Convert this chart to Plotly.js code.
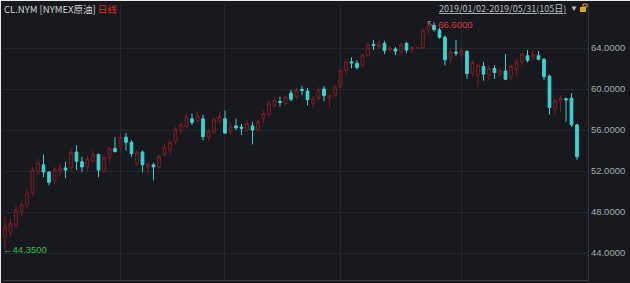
<!DOCTYPE html>
<html>
<head>
<meta charset="utf-8">
<script src="https://cdn.plot.ly/plotly-3.0.1.min.js"></script>
<style>
html,body{margin:0;padding:0;background:#e9e9ea;}
#chart{position:absolute;left:1px;top:1px;width:629px;height:282px;}
</style>
</head>
<body>
<div id="chart"></div>
<script>
// Daily OHLC, CL.NYM, 2019/01/02 - 2019/05/31 (105 bars)
const open  = [45.60,46.05,46.70,48.00,48.70,49.85,51.90,52.60,51.90,51.00,
               52.00,52.30,52.30,53.85,52.90,52.40,53.00,53.60,52.00,53.30,
               54.20,54.30,55.30,54.80,52.70,53.85,52.40,52.60,52.40,53.60,
               54.05,54.90,56.00,56.30,57.10,56.90,57.10,55.30,55.80,56.80,
               57.10,55.80,56.40,56.30,56.00,56.40,56.00,57.10,57.50,58.40,
               58.80,58.60,59.60,59.20,59.95,59.80,58.60,59.10,60.00,59.10,
               59.40,60.20,61.80,62.65,62.50,62.30,63.30,64.35,64.10,64.45,
               63.80,63.90,63.65,64.45,63.85,64.00,64.05,65.75,66.20,65.75,
               65.05,63.00,63.60,63.30,63.65,61.55,61.30,62.20,61.35,62.00,
               61.50,61.75,61.20,61.90,62.65,63.25,63.15,63.25,62.90,61.25,
               58.10,58.80,59.05,59.10,56.50];
const high  = [47.50,47.30,48.60,49.00,50.20,52.40,53.20,53.60,52.00,52.40,
               52.70,52.90,54.30,54.50,53.40,53.50,54.00,53.70,53.50,54.40,
               55.30,55.60,55.70,55.00,54.00,54.00,52.90,52.80,53.60,54.60,
               55.00,56.30,56.70,57.60,57.60,57.80,57.50,56.10,57.20,57.80,
               57.90,56.70,57.10,56.60,57.00,56.80,57.00,57.90,58.90,59.20,
               59.25,59.40,59.90,60.10,60.30,60.10,59.30,60.20,60.30,59.50,
               60.40,62.00,62.90,63.10,62.80,63.50,64.60,64.80,64.80,64.70,
               64.20,64.10,64.50,64.60,64.20,64.10,65.90,66.60,66.50,66.00,
               65.20,64.00,64.80,64.00,63.80,62.80,62.50,62.65,62.30,62.30,
               62.00,63.40,62.40,62.90,63.50,63.80,63.80,63.70,63.00,61.40,
               59.00,59.40,59.15,59.60,56.60];
const low   = [44.35,45.60,46.40,47.60,48.40,49.60,51.60,51.40,50.60,50.60,
               51.50,51.30,52.00,52.10,51.90,52.00,52.80,51.40,51.80,52.90,
               53.80,53.70,54.00,53.40,52.50,51.90,51.80,51.10,52.20,53.40,
               53.60,54.60,55.60,56.10,56.50,56.70,55.00,54.90,55.60,56.60,
               55.60,55.50,56.00,55.50,55.80,54.60,55.80,56.70,57.30,58.20,
               58.30,58.40,58.80,59.00,59.40,58.40,58.10,58.90,58.80,58.20,
               59.20,60.10,61.40,62.00,61.90,62.00,63.10,63.80,63.90,63.40,
               63.60,63.30,63.40,63.50,63.50,63.95,63.90,65.40,65.60,64.90,
               62.30,62.50,63.20,63.10,61.00,61.20,60.20,60.80,60.90,61.00,
               61.20,60.90,60.80,61.30,62.30,62.60,62.80,62.80,60.90,57.50,
               57.50,57.80,56.80,56.30,53.10];
const close = [46.55,46.90,48.20,48.70,49.85,52.10,52.80,51.90,50.90,52.20,
               52.30,52.10,53.80,52.95,52.40,53.20,53.60,52.10,53.30,54.20,
               53.90,55.30,54.80,53.70,53.80,52.60,52.70,52.40,53.40,54.30,
               54.80,56.10,56.50,57.30,56.75,57.40,55.35,55.90,57.00,57.30,
               55.70,56.30,56.20,56.15,56.65,56.00,56.80,57.60,58.60,58.90,
               58.70,59.25,59.00,59.90,59.85,58.95,59.05,59.90,59.35,59.40,
               60.20,61.80,62.65,62.55,62.10,63.30,64.30,64.25,64.35,63.75,
               64.00,63.70,64.30,63.80,64.05,64.05,65.75,66.25,65.80,65.05,
               62.85,63.60,63.50,63.75,61.50,62.60,62.30,61.45,62.00,61.60,
               61.80,60.95,62.20,62.65,63.40,62.80,63.40,62.90,61.20,58.20,
               58.90,59.10,58.95,56.50,53.40];
// bar index of the first trading day of Feb, Mar, Apr, May
const monthStarts = [21, 40, 61, 83];
const yTicks = [44, 48, 52, 56, 60, 64];
const titleMain = 'CL.NYM [NYMEX原油] ';
const titlePeriod = '日线';
const rangeText = '2019/01/02-2019/05/31(105日)';

const idx = close.map((_, i) => i);
let iMax = 0, iMin = 0;
high.forEach((v, i) => { if (v > high[iMax]) iMax = i; });
low.forEach((v, i) => { if (v < low[iMin]) iMin = i; });

const trace = {
  type: 'candlestick',
  x: idx, open: open, high: high, low: low, close: close,
  increasing: {line: {color: '#821c23', width: 1}, fillcolor: 'rgba(0,0,0,0)'},
  decreasing: {line: {color: '#3ed3d0', width: 1}, fillcolor: '#3ed3d0'},
  whiskerwidth: 0,
  hoverinfo: 'skip',
  showlegend: false
};

const W = 629, H = 282, mL = 2, mR = 42, mT = 2, mB = 3;
const pw = W - mL - mR, ph = H - mT - mB;
const px = v => (v - mL) / pw;           // div px -> paper x
const py = v => (H - mB - v) / ph;       // div px -> paper y

const layout = {
  width: W, height: H,
  margin: {l: mL, r: mR, t: mT, b: mB, pad: 0},
  paper_bgcolor: '#17191e',
  plot_bgcolor: '#17191e',
  font: {family: 'Liberation Sans, Arial, "Noto Sans CJK SC", sans-serif', color: '#a9abb0', size: 9.5},
  showlegend: false,
  xaxis: {
    type: 'linear',
    range: [-0.36, 106],
    tickvals: monthStarts,
    showticklabels: false,
    ticks: '',
    showgrid: true,
    gridcolor: '#25272d',
    gridwidth: 1,
    zeroline: false,
    showline: true,
    linecolor: '#3b3d43',
    rangeslider: {visible: false},
    fixedrange: true
  },
  yaxis: {
    side: 'right',
    range: [41.37, 68.39],
    tickvals: yTicks,
    tickformat: '.4f',
    ticks: '',
    showgrid: true,
    gridcolor: '#25272d',
    zeroline: false,
    showline: true,
    linecolor: '#34363c',
    tickfont: {size: 9.5, color: '#a9abb0'},
    fixedrange: true
  },
  annotations: [
    {xref: 'paper', yref: 'paper', x: px(1), y: py(8), xanchor: 'left', yanchor: 'middle',
     showarrow: false, font: {size: 9.5, color: '#d4d5d8', family: '"Noto Sans CJK SC", Liberation Sans, sans-serif'},
     text: titleMain + '<span style="color:#e0262a">' + titlePeriod + '</span>'},
    {xref: 'paper', yref: 'paper', x: px(567), y: py(8), xanchor: 'right', yanchor: 'middle',
     showarrow: false, font: {size: 9, color: '#b9bbc0', family: '"Noto Sans CJK SC", Liberation Sans, sans-serif'},
     text: '<span style="text-decoration:underline">' + rangeText + '</span>'},
    {xref: 'paper', yref: 'paper', x: px(567), y: py(8), xanchor: 'left', yanchor: 'middle',
     showarrow: false, font: {size: 8, color: '#b9bbc0'}, text: '▼'},
    {xref: 'x', yref: 'y', x: idx[iMax], y: high[iMax], xanchor: 'left', yanchor: 'middle',
     xshift: -4, yshift: -3, showarrow: false, font: {size: 9.5, color: '#e0343a'},
     text: '<span style="color:#8d8f94">↖</span> ' + high[iMax].toFixed(4)},
    {xref: 'x', yref: 'y', x: idx[iMin], y: low[iMin], xanchor: 'left', yanchor: 'middle',
     xshift: -4, yshift: 0, showarrow: false, font: {size: 9.5, color: '#2fbf4f'},
     text: '<span style="color:#8d8f94">←</span>' + low[iMin].toFixed(4)}
  ],
  shapes: [
    {type: 'rect', xref: 'paper', yref: 'paper', x0: px(579), x1: px(585), y0: py(11), y1: py(6),
     fillcolor: '#d9a81e', line: {width: 0}},
    {type: 'rect', xref: 'paper', yref: 'paper', x0: px(582), x1: px(586), y0: py(6), y1: py(3),
     fillcolor: 'rgba(0,0,0,0)', line: {width: 1, color: '#d9a81e'}}
  ]
};

Plotly.newPlot('chart', [trace], layout, {staticPlot: true, displayModeBar: false});
</script>
</body>
</html>
